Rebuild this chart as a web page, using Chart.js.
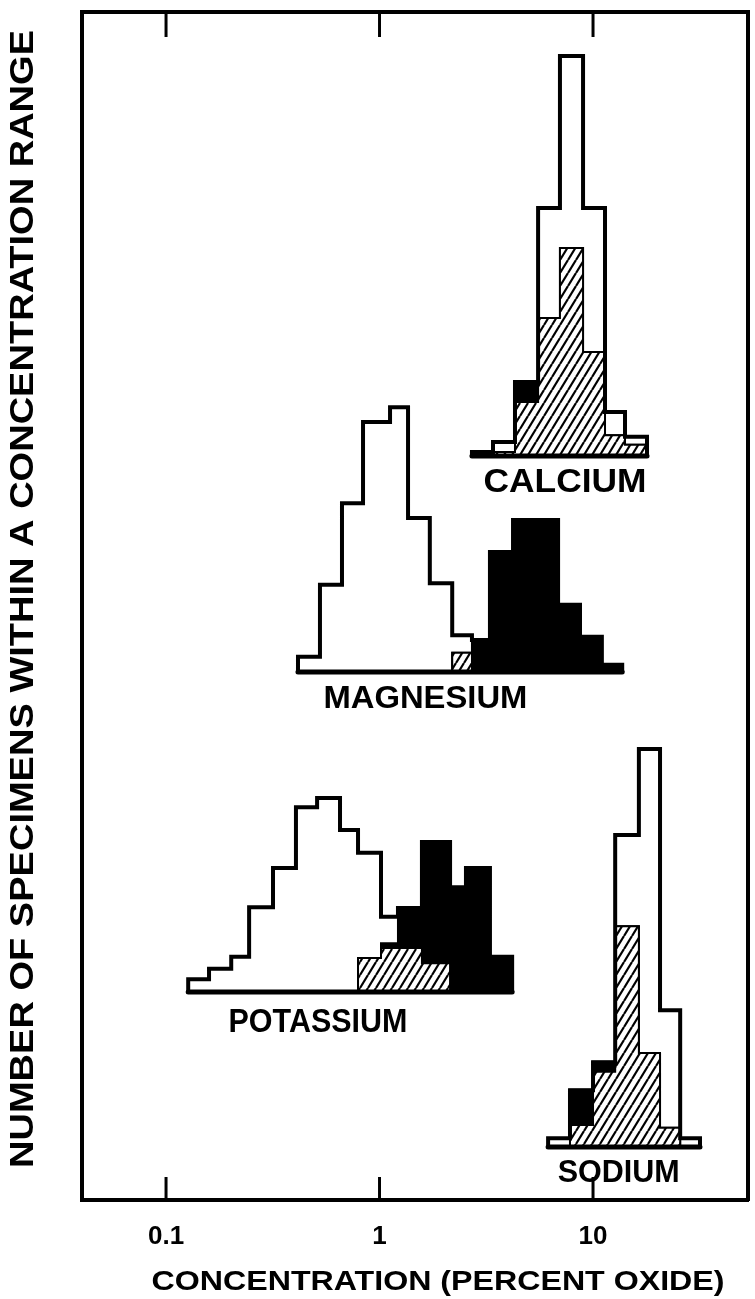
<!DOCTYPE html>
<html><head><meta charset="utf-8">
<script src="https://cdn.jsdelivr.net/npm/chart.js@4"></script>
<style>html,body{margin:0;padding:0;background:#fff}canvas{display:block}</style>
</head><body>
<canvas id="c" width="755" height="1299"></canvas>
<script>
// ---- data ----
const tickValues = [0.1, 1, 10];
const tickLabels = ['0.1', '1', '10'];
const xTitle = 'CONCENTRATION (PERCENT OXIDE)';
const yTitle = 'NUMBER OF SPECIMENS WITHIN A CONCENTRATION RANGE';

const calciumEdges   = [2.71, 3.40, 4.31, 5.53, 7.00, 8.98, 11.38, 14.12, 17.90];
const calciumTotal   = [0.5, 1.75, 9.25, 31, 50, 31, 5.5, 2.4];
const calciumHatched = [0, 0.5, 6.75, 17.25, 26, 13, 2.6, 1.4];
const calciumBlack   = [0.5, 0, 2.5, 0, 0, 0, 0, 0];

const magnesiumEdges   = [0.415, 0.526, 0.667, 0.837, 1.12, 1.36, 1.72, 2.19, 2.71, 3.29, 4.22, 5.35, 6.86, 8.69, 11.0, 13.7];
const magnesiumTotal   = [1.9, 10.9, 21.1, 31.25, 33.1, 19.25, 11.1, 4.6, 4, 15, 19, 19, 8.4, 4.4, 0.9];
const magnesiumHatched = [0, 0, 0, 0, 0, 0, 0, 2.4, 0, 0, 0, 0, 0, 0, 0];
const magnesiumBlack   = [0, 0, 0, 0, 0, 0, 0, 0, 4, 15, 19, 19, 8.4, 4.4, 0.9];

const potassiumEdges   = [0.127, 0.159, 0.202, 0.245, 0.317, 0.406, 0.510, 0.653, 0.793, 1.016, 1.22, 1.58, 2.14, 2.54, 3.29, 4.18];
const potassiumTotal   = [1.6, 2.9, 4.4, 10.6, 15.5, 23.1, 24.25, 20.25, 17.4, 9.4, 10.5, 18.75, 13.1, 15.5, 4.4];
const potassiumHatched = [0, 0, 0, 0, 0, 0, 0, 0, 4.25, 5.5, 5.5, 3.6, 0, 0, 0];
const potassiumBlack   = [0, 0, 0, 0, 0, 0, 0, 0, 0, 0.6, 5, 15.1, 13.1, 15.5, 4.4];

const sodiumEdges   = [6.16, 7.80, 10.0, 12.7, 16.4, 20.6, 25.6, 31.7];
const sodiumTotal   = [1.1, 7.1, 10.6, 39, 49.75, 17.1, 1.1];
const sodiumHatched = [0, 2.75, 9.4, 27.6, 11.75, 2.4, 0];
const sodiumBlack   = [0, 4.4, 1.25, 0, 0, 0, 0];

// ---- layout / style ----
const FONT = "'Liberation Sans', Arial, sans-serif";
const X_RANGE = [0.0404, 53.2];
const Y_SPAN = 148.5;
const panels = [
  {axis: 'yCa', name: 'CALCIUM',   edges: calciumEdges,   total: calciumTotal,   hatched: calciumHatched,   black: calciumBlack,   yMin: -93,    label: {at: 7.39, dy: 36, cap: 24, width: 163}},
  {axis: 'yMg', name: 'MAGNESIUM', edges: magnesiumEdges, total: magnesiumTotal, hatched: magnesiumHatched, black: magnesiumBlack, yMin: -66,    label: {at: 1.64, dy: 36, cap: 23, width: 204}},
  {axis: 'yK',  name: 'POTASSIUM', edges: potassiumEdges, total: potassiumTotal, hatched: potassiumHatched, black: potassiumBlack, yMin: -26,    label: {at: 0.515, dy: 40, cap: 24, width: 179}},
  {axis: 'yNa', name: 'SODIUM',    edges: sodiumEdges,    total: sodiumTotal,    hatched: sodiumHatched,    black: sodiumBlack,    yMin: -6.625, label: {at: 13.2, dy: 35, cap: 22, width: 122}}
];

function makeHatch() {
  const w = 8, h = 13;
  const c = document.createElement('canvas'); c.width = w; c.height = h;
  const g = c.getContext('2d');
  g.fillStyle = '#fff'; g.fillRect(0, 0, w, h);
  g.strokeStyle = '#000'; g.lineWidth = 2.2;
  for (const dx of [-w, 0, w]) { g.beginPath(); g.moveTo(dx, h); g.lineTo(dx + w, 0); g.stroke(); }
  return g.createPattern(c, 'repeat');
}
const hatch = makeHatch();

function steps(edges, vals) {
  const pts = [{x: edges[0], y: 0}];
  vals.forEach((v, i) => pts.push({x: edges[i], y: v}));
  pts.push({x: edges[edges.length - 1], y: vals[vals.length - 1]});
  pts.push({x: edges[edges.length - 1], y: 0});
  return pts;
}

const datasets = [];
const scales = {
  x: {
    type: 'logarithmic', position: 'bottom', min: X_RANGE[0], max: X_RANGE[1],
    grid: {display: false},
    border: {display: true, color: '#000', width: 4},
    afterBuildTicks: s => { s.ticks = tickValues.map(v => ({value: v})); },
    afterFit: s => { s.height = 45; },
    ticks: {
      color: '#000', padding: 13, maxRotation: 0, autoSkip: false,
      font: {family: FONT, size: 26, weight: 'bold'},
      callback: v => tickLabels[tickValues.indexOf(v)] ?? ''
    }
  },
  x2: {
    type: 'logarithmic', position: 'top', min: X_RANGE[0], max: X_RANGE[1],
    grid: {display: false}, ticks: {display: false},
    border: {display: true, color: '#000', width: 4},
    afterFit: s => { s.height = 0; }
  }
};
panels.forEach((p, k) => {
  const side = k === 0 ? 'left' : 'right';
  const show = k === 0 || k === panels.length - 1;
  scales[p.axis] = {
    type: 'linear', position: side, display: show,
    min: p.yMin, max: p.yMin + Y_SPAN,
    grid: {display: false}, ticks: {display: false},
    border: {display: show, color: '#000', width: 4},
    afterFit: s => { s.width = 0; }
  };
  const blackStack = p.hatched.map((h, i) => h + p.black[i]);
  const common = {xAxisID: 'x', yAxisID: p.axis, stepped: true, pointRadius: 0, tension: 0, parsing: true};
  datasets.push({...common, label: p.name + ' black', data: steps(p.edges, blackStack), fill: 'origin', backgroundColor: '#000', borderColor: '#000', borderWidth: 2, order: 4});
  datasets.push({...common, label: p.name + ' hatched', data: steps(p.edges, p.hatched), fill: 'origin', backgroundColor: hatch, borderColor: '#000', borderWidth: 2, order: 3});
  datasets.push({...common, label: p.name + ' all', data: steps(p.edges, p.total), fill: false, backgroundColor: '#fff', borderColor: '#000', borderWidth: 4, order: 2});
  datasets.push({...common, label: p.name + ' base', data: [{x: p.edges[0], y: 0}, {x: p.edges[p.edges.length - 1], y: 0}], fill: false, borderColor: '#000', borderWidth: 5, borderCapStyle: 'round', order: 1});
});

function fitText(ctx, text, x, y, cap, width) {
  const size = cap / 0.716;
  ctx.font = 'bold ' + size + 'px ' + FONT;
  const w = ctx.measureText(text).width;
  ctx.save();
  ctx.translate(x, y);
  ctx.scale(width / w, 1);
  ctx.textAlign = 'center';
  ctx.textBaseline = 'alphabetic';
  ctx.fillStyle = '#000';
  ctx.fillText(text, 0, 0);
  ctx.restore();
}

const decorations = {
  id: 'decorations',
  afterDraw(chart) {
    const {ctx, chartArea: a, scales: s} = chart;
    ctx.save();
    // inward tick marks on bottom and top
    ctx.strokeStyle = '#000'; ctx.lineWidth = 3;
    tickValues.forEach(v => {
      const px = s.x.getPixelForValue(v);
      ctx.beginPath(); ctx.moveTo(px, a.bottom); ctx.lineTo(px, a.bottom - 23); ctx.stroke();
      ctx.beginPath(); ctx.moveTo(px, a.top); ctx.lineTo(px, a.top + 25); ctx.stroke();
    });
    // histogram names
    panels.forEach(p => {
      const px = s.x.getPixelForValue(p.label.at);
      const py = s[p.axis].getPixelForValue(0) + p.label.dy;
      fitText(ctx, p.name, px, py, p.label.cap, p.label.width);
    });
    // axis titles
    fitText(ctx, xTitle, 438, 1290, 20, 573);
    ctx.save();
    ctx.translate(33, 599);
    ctx.rotate(-Math.PI / 2);
    fitText(ctx, yTitle, 0, 0, 24, 1138);
    ctx.restore();
    ctx.restore();
  }
};

new Chart(document.getElementById('c'), {
  type: 'line',
  data: {datasets},
  options: {
    responsive: false, animation: false, devicePixelRatio: 1,
    layout: {padding: {left: 82, right: 7, top: 12, bottom: 54}},
    plugins: {legend: {display: false}, tooltip: {enabled: false}, filler: {propagate: false}},
    scales
  },
  plugins: [decorations]
});
</script>
</body></html>
